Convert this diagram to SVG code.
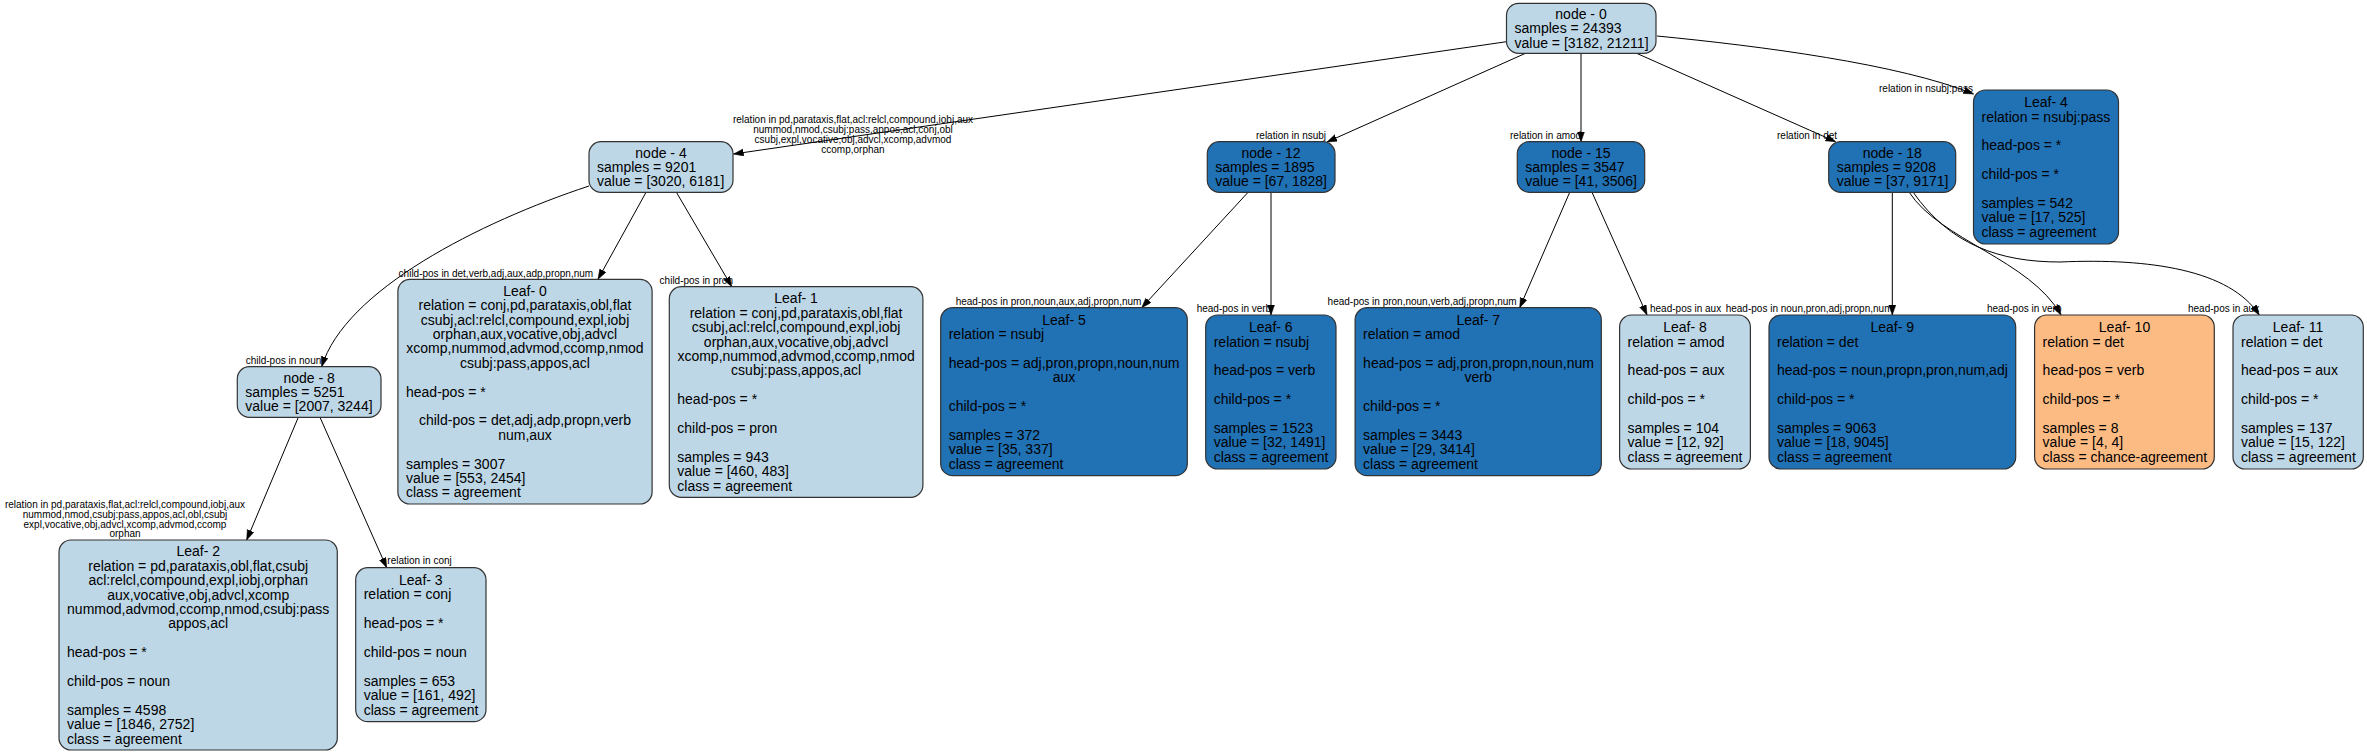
<svg xmlns="http://www.w3.org/2000/svg" width="2367" height="754" viewBox="0 0 2367 754">
<style>
text{font-family:"Liberation Sans",Arial,Helvetica,sans-serif;fill:#000}
.n text{font-size:14px}
.c{text-anchor:middle}
.e text{font-size:10px}
rect{stroke:#333;stroke-width:1.2}
.lb rect{fill:#bdd7e7}
.db rect{fill:#2171b5}
.or rect{fill:#fdbb84}
.e path{fill:none;stroke:#000;stroke-width:1;marker-end:url(#ah)}
</style>
<defs>
<marker id="ah" markerUnits="userSpaceOnUse" markerWidth="11" markerHeight="8" refX="10" refY="3.5" orient="auto">
<path d="M0,0 L10,3.5 L0,7 z" fill="#000" stroke="#000" stroke-width="0.5"/>
</marker>
</defs>
<rect x="0" y="0" width="2367" height="754" fill="#fff" style="stroke:none"/>

<g class="e" id="connectors">
<path d="M1506.5,41.7 L733.5,154"/>
<path d="M1525.5,53.3 L1327,142"/>
<path d="M1581,53.3 L1581,141.7"/>
<path d="M1636.6,53.3 L1835.6,141.7"/>
<path d="M1657,36 C1760,46 1900,64 1973.5,94"/>
<path d="M589,186 C480,222 345,290 321.7,366.7"/>
<path d="M646,192.3 L598,279.3"/>
<path d="M676.4,192.3 L731.8,286.7"/>
<path d="M298.3,417.3 L246.7,540"/>
<path d="M320,417.3 L386.7,567.7"/>
<path d="M1248.3,192 L1141.7,307.7"/>
<path d="M1271,192 L1271,315"/>
<path d="M1569.7,192.3 L1519.7,307.7"/>
<path d="M1592,192.3 L1647,315"/>
<path d="M1892.3,191.7 L1892.3,315"/>
<path d="M1909,192 C1940,240 2030,260 2061,315"/>
<path d="M1913,192 C1950,245 2000,262 2060,262 C2150,258 2230,270 2259.2,315"/>
<text x="853" y="123.3" class="c">relation in pd,parataxis,flat,acl:relcl,compound,iobj,aux</text>
<text x="853" y="133.3" class="c">nummod,nmod,csubj:pass,appos,acl,conj,obl</text>
<text x="853" y="143.3" class="c">csubj,expl,vocative,obj,advcl,xcomp,advmod</text>
<text x="853" y="153" class="c">ccomp,orphan</text>
<text x="1256" y="139">relation in nsubj</text>
<text x="1510" y="138.5">relation in amod</text>
<text x="1777" y="139">relation in det</text>
<text x="1879" y="91.7">relation in nsubj:pass</text>
<text x="398.6" y="277.3">child-pos in det,verb,adj,aux,adp,propn,num</text>
<text x="659.6" y="284">child-pos in pron</text>
<text x="245.7" y="364.3">child-pos in noun</text>
<text x="125" y="507.5" class="c">relation in pd,parataxis,flat,acl:relcl,compound,iobj,aux</text>
<text x="125" y="517.5" class="c">nummod,nmod,csubj:pass,appos,acl,obl,csubj</text>
<text x="125" y="527.5" class="c">expl,vocative,obj,advcl,xcomp,advmod,ccomp</text>
<text x="125" y="537.3" class="c">orphan</text>
<text x="387.3" y="564">relation in conj</text>
<text x="955.7" y="305">head-pos in pron,noun,aux,adj,propn,num</text>
<text x="1196.7" y="311.7">head-pos in verb</text>
<text x="1327.6" y="305">head-pos in pron,noun,verb,adj,propn,num</text>
<text x="1650" y="311.7">head-pos in aux</text>
<text x="1725.7" y="312">head-pos in noun,pron,adj,propn,num</text>
<text x="1987" y="311.7">head-pos in verb</text>
<text x="2188" y="311.7">head-pos in aux</text>
</g>

<g id="node0" class="n lb">
<rect x="1506.5" y="3.3" width="149.5" height="50" rx="12"/>
<text x="1581" y="18.9" class="c">node - 0</text>
<text x="1514.5" y="33.3">samples = 24393</text>
<text x="1514.5" y="47.7">value = [3182, 21211]</text>
</g>

<g id="node4" class="n lb">
<rect x="589" y="141.7" width="144" height="50.6" rx="12"/>
<text x="661" y="157.6" class="c">node - 4</text>
<text x="597" y="172">samples = 9201</text>
<text x="597" y="186.4">value = [3020, 6181]</text>
</g>

<g id="node12" class="n db">
<rect x="1207.3" y="141.7" width="127.7" height="50.6" rx="12"/>
<text x="1271" y="157.6" class="c">node - 12</text>
<text x="1215.3" y="172">samples = 1895</text>
<text x="1215.3" y="186.4">value = [67, 1828]</text>
</g>

<g id="node15" class="n db">
<rect x="1517.3" y="141.7" width="127.4" height="50.6" rx="12"/>
<text x="1581" y="157.6" class="c">node - 15</text>
<text x="1525.3" y="172">samples = 3547</text>
<text x="1525.3" y="186.4">value = [41, 3506]</text>
</g>

<g id="node18" class="n db">
<rect x="1828.7" y="141.7" width="127" height="50.6" rx="12"/>
<text x="1892.3" y="157.6" class="c">node - 18</text>
<text x="1836.7" y="172">samples = 9208</text>
<text x="1836.7" y="186.4">value = [37, 9171]</text>
</g>

<g id="node8" class="n lb">
<rect x="237.3" y="366.7" width="143.7" height="50.6" rx="12"/>
<text x="309.2" y="382.6" class="c">node - 8</text>
<text x="245.3" y="397">samples = 5251</text>
<text x="245.3" y="411.4">value = [2007, 3244]</text>
</g>

<g id="leaf4" class="n db">
<rect x="1973.5" y="90" width="145" height="154" rx="12"/>
<text x="2046" y="107.2" class="c">Leaf- 4</text>
<text x="1981.5" y="121.6">relation = nsubj:pass</text>
<text x="1981.5" y="150.4">head-pos = *</text>
<text x="1981.5" y="179.2">child-pos = *</text>
<text x="1981.5" y="208">samples = 542</text>
<text x="1981.5" y="222.4">value = [17, 525]</text>
<text x="1981.5" y="236.8">class = agreement</text>
</g>

<g id="leaf0" class="n lb">
<rect x="397.9" y="279.3" width="254.2" height="224.7" rx="12"/>
<text x="525" y="295.85" class="c">Leaf- 0</text>
<text x="525" y="310.25" class="c">relation = conj,pd,parataxis,obl,flat</text>
<text x="525" y="324.65" class="c">csubj,acl:relcl,compound,expl,iobj</text>
<text x="525" y="339.05" class="c">orphan,aux,vocative,obj,advcl</text>
<text x="525" y="353.45" class="c">xcomp,nummod,advmod,ccomp,nmod</text>
<text x="525" y="367.85" class="c">csubj:pass,appos,acl</text>
<text x="406" y="396.65">head-pos = *</text>
<text x="525" y="425.45" class="c">child-pos = det,adj,adp,propn,verb</text>
<text x="525" y="439.85" class="c">num,aux</text>
<text x="406" y="468.65">samples = 3007</text>
<text x="406" y="483.05">value = [553, 2454]</text>
<text x="406" y="497.45">class = agreement</text>
</g>

<g id="leaf1" class="n lb">
<rect x="669.3" y="286.7" width="253.6" height="210.6" rx="12"/>
<text x="796.1" y="303.4" class="c">Leaf- 1</text>
<text x="796.1" y="317.8" class="c">relation = conj,pd,parataxis,obl,flat</text>
<text x="796.1" y="332.2" class="c">csubj,acl:relcl,compound,expl,iobj</text>
<text x="796.1" y="346.6" class="c">orphan,aux,vocative,obj,advcl</text>
<text x="796.1" y="361" class="c">xcomp,nummod,advmod,ccomp,nmod</text>
<text x="796.1" y="375.4" class="c">csubj:pass,appos,acl</text>
<text x="677.3" y="404.2">head-pos = *</text>
<text x="677.3" y="433">child-pos = pron</text>
<text x="677.3" y="461.8">samples = 943</text>
<text x="677.3" y="476.2">value = [460, 483]</text>
<text x="677.3" y="490.6">class = agreement</text>
</g>

<g id="leaf2" class="n lb">
<rect x="59" y="540" width="278.3" height="210" rx="12"/>
<text x="198.2" y="556.4" class="c">Leaf- 2</text>
<text x="198.2" y="570.8" class="c">relation = pd,parataxis,obl,flat,csubj</text>
<text x="198.2" y="585.2" class="c">acl:relcl,compound,expl,iobj,orphan</text>
<text x="198.2" y="599.6" class="c">aux,vocative,obj,advcl,xcomp</text>
<text x="198.2" y="614" class="c">nummod,advmod,ccomp,nmod,csubj:pass</text>
<text x="198.2" y="628.4" class="c">appos,acl</text>
<text x="67" y="657.2">head-pos = *</text>
<text x="67" y="686">child-pos = noun</text>
<text x="67" y="714.8">samples = 4598</text>
<text x="67" y="729.2">value = [1846, 2752]</text>
<text x="67" y="743.6">class = agreement</text>
</g>

<g id="leaf3" class="n lb">
<rect x="355.7" y="567.7" width="130.3" height="154" rx="12"/>
<text x="420.85" y="584.9" class="c">Leaf- 3</text>
<text x="363.7" y="599.3">relation = conj</text>
<text x="363.7" y="628.1">head-pos = *</text>
<text x="363.7" y="656.9">child-pos = noun</text>
<text x="363.7" y="685.7">samples = 653</text>
<text x="363.7" y="700.1">value = [161, 492]</text>
<text x="363.7" y="714.5">class = agreement</text>
</g>

<g id="leaf5" class="n db">
<rect x="940.7" y="307.7" width="246.6" height="168" rx="12"/>
<text x="1064" y="324.7" class="c">Leaf- 5</text>
<text x="948.7" y="339.1">relation = nsubj</text>
<text x="948.7" y="367.9">head-pos = adj,pron,propn,noun,num</text>
<text x="1064" y="382.3" class="c">aux</text>
<text x="948.7" y="411.1">child-pos = *</text>
<text x="948.7" y="439.9">samples = 372</text>
<text x="948.7" y="454.3">value = [35, 337]</text>
<text x="948.7" y="468.7">class = agreement</text>
</g>

<g id="leaf6" class="n db">
<rect x="1205.7" y="315" width="130.3" height="154" rx="12"/>
<text x="1270.85" y="332.2" class="c">Leaf- 6</text>
<text x="1213.7" y="346.6">relation = nsubj</text>
<text x="1213.7" y="375.4">head-pos = verb</text>
<text x="1213.7" y="404.2">child-pos = *</text>
<text x="1213.7" y="433">samples = 1523</text>
<text x="1213.7" y="447.4">value = [32, 1491]</text>
<text x="1213.7" y="461.8">class = agreement</text>
</g>

<g id="leaf7" class="n db">
<rect x="1355.1" y="307.7" width="246.2" height="168" rx="12"/>
<text x="1478.2" y="324.7" class="c">Leaf- 7</text>
<text x="1363.1" y="339.1">relation = amod</text>
<text x="1363.1" y="367.9">head-pos = adj,pron,propn,noun,num</text>
<text x="1478.2" y="382.3" class="c">verb</text>
<text x="1363.1" y="411.1">child-pos = *</text>
<text x="1363.1" y="439.9">samples = 3443</text>
<text x="1363.1" y="454.3">value = [29, 3414]</text>
<text x="1363.1" y="468.7">class = agreement</text>
</g>

<g id="leaf8" class="n lb">
<rect x="1619.6" y="315" width="130.8" height="154" rx="12"/>
<text x="1685" y="332.2" class="c">Leaf- 8</text>
<text x="1627.6" y="346.6">relation = amod</text>
<text x="1627.6" y="375.4">head-pos = aux</text>
<text x="1627.6" y="404.2">child-pos = *</text>
<text x="1627.6" y="433">samples = 104</text>
<text x="1627.6" y="447.4">value = [12, 92]</text>
<text x="1627.6" y="461.8">class = agreement</text>
</g>

<g id="leaf9" class="n db">
<rect x="1769" y="315" width="246.7" height="154" rx="12"/>
<text x="1892.3" y="332.2" class="c">Leaf- 9</text>
<text x="1777" y="346.6">relation = det</text>
<text x="1777" y="375.4">head-pos = noun,propn,pron,num,adj</text>
<text x="1777" y="404.2">child-pos = *</text>
<text x="1777" y="433">samples = 9063</text>
<text x="1777" y="447.4">value = [18, 9045]</text>
<text x="1777" y="461.8">class = agreement</text>
</g>

<g id="leaf10" class="n or">
<rect x="2034.6" y="315" width="179.7" height="154" rx="12"/>
<text x="2124.5" y="332.2" class="c">Leaf- 10</text>
<text x="2042.6" y="346.6">relation = det</text>
<text x="2042.6" y="375.4">head-pos = verb</text>
<text x="2042.6" y="404.2">child-pos = *</text>
<text x="2042.6" y="433">samples = 8</text>
<text x="2042.6" y="447.4">value = [4, 4]</text>
<text x="2042.6" y="461.8">class = chance-agreement</text>
</g>

<g id="leaf11" class="n lb">
<rect x="2233" y="315" width="130.3" height="154" rx="12"/>
<text x="2298" y="332.2" class="c">Leaf- 11</text>
<text x="2241" y="346.6">relation = det</text>
<text x="2241" y="375.4">head-pos = aux</text>
<text x="2241" y="404.2">child-pos = *</text>
<text x="2241" y="433">samples = 137</text>
<text x="2241" y="447.4">value = [15, 122]</text>
<text x="2241" y="461.8">class = agreement</text>
</g>
</svg>
